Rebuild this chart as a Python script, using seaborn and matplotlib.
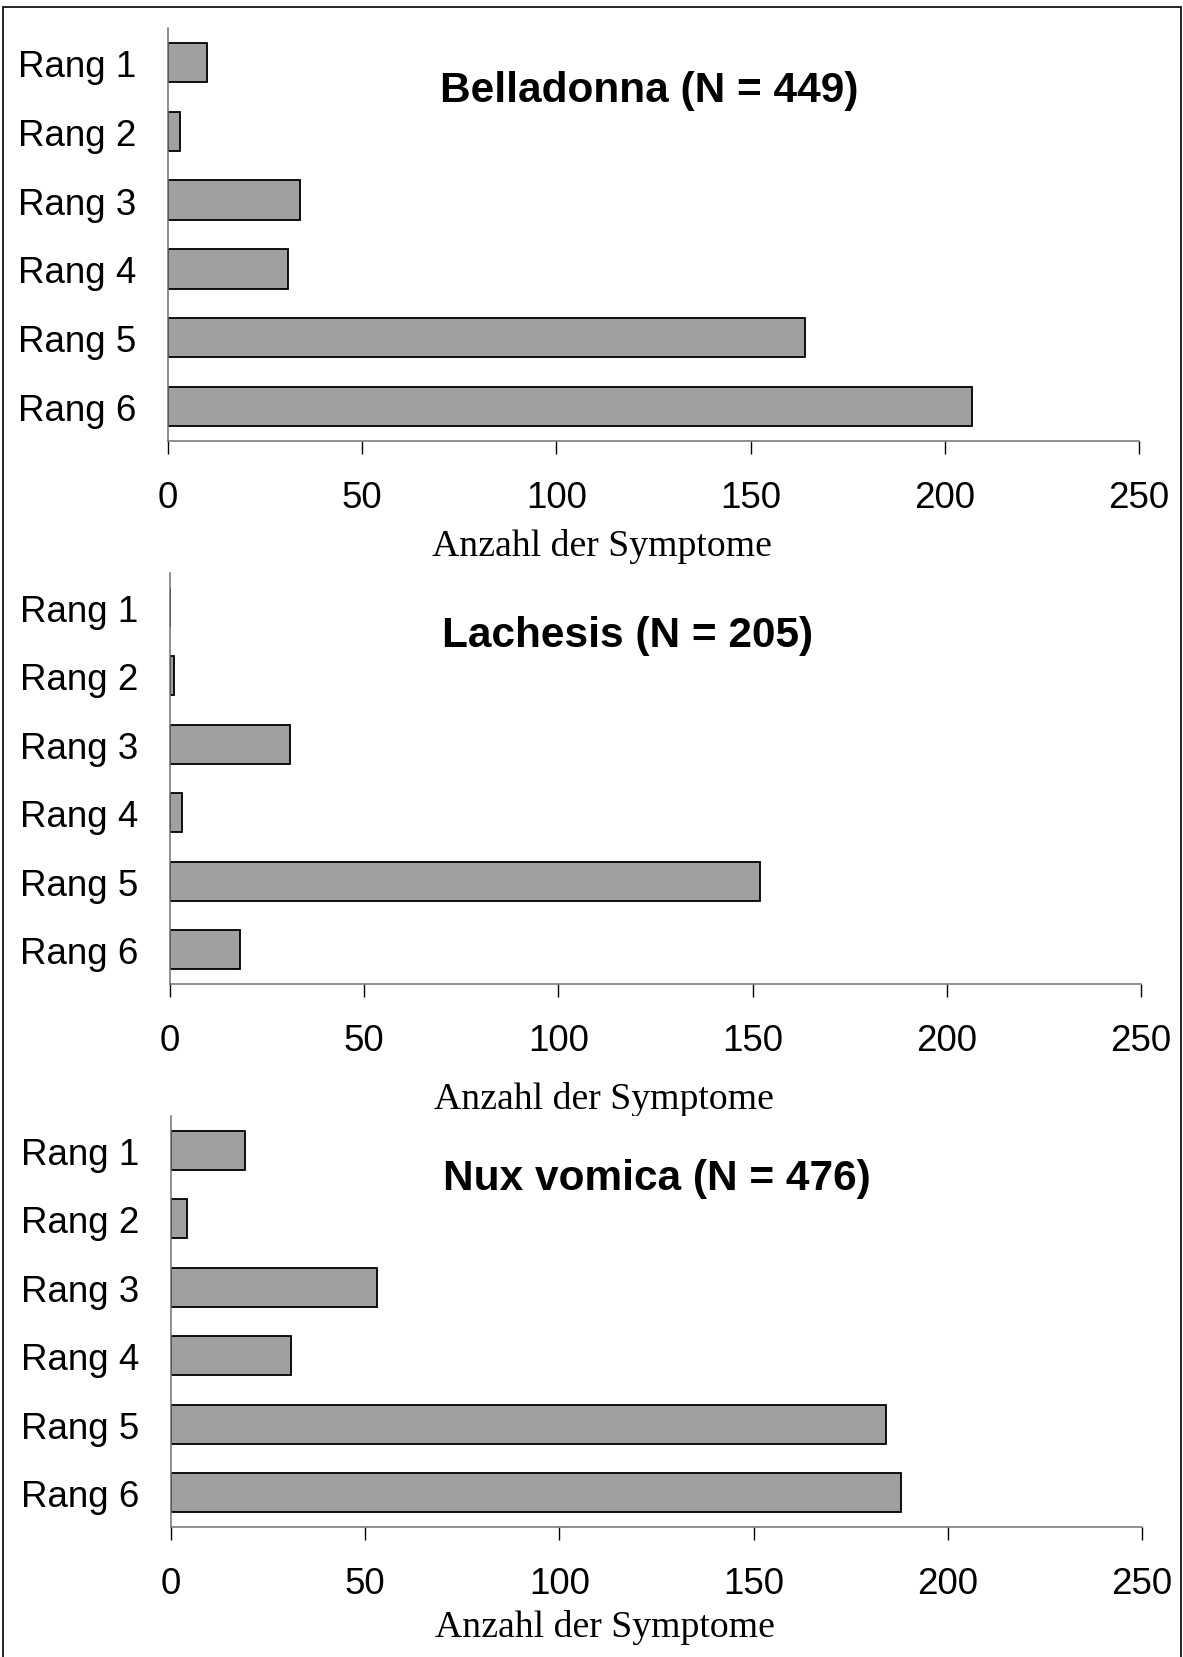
import matplotlib
matplotlib.use("Agg")
import matplotlib.pyplot as plt
from matplotlib.patches import Rectangle
import seaborn as sns

# data
ranks = ["Rang 1", "Rang 2", "Rang 3", "Rang 4", "Rang 5", "Rang 6"]
belladonna = [10, 3, 34, 31, 164, 207]
lachesis = [0, 1, 31, 3, 152, 18]
nux_vomica = [19, 4, 53, 31, 184, 188]
titles = ["Belladonna (N = 449)", "Lachesis (N = 205)", "Nux vomica (N = 476)"]
x_ticks = [0, 50, 100, 150, 200, 250]
x_label = "Anzahl der Symptome"

sns.set_style("white")
plt.rcParams["font.family"] = ["Liberation Sans", "DejaVu Sans"]
plt.rcParams["text.color"] = "black"
plt.rcParams["axes.labelcolor"] = "black"
plt.rcParams["xtick.color"] = "black"
plt.rcParams["ytick.color"] = "black"

W, H = 1183, 1658
fig = plt.figure(figsize=(W / 100, H / 100), dpi=100)

# axes boxes in pixels: left, right, top, bottom, xlabel offset
boxes = [(168, 1139, 29, 442, 105), (170, 1141, 574, 985, 115),
         (171, 1142, 1117, 1528, 100)]
series = [belladonna, lachesis, nux_vomica]

for (l, r, t, b, lab_off), vals, title in zip(boxes, series, titles):
    ax = fig.add_axes([l / W, 1 - b / H, (r - l) / W, (b - t) / H])
    sns.barplot(x=vals, y=ranks, orient="h", color="#a0a0a0", saturation=1,
                edgecolor="black", linewidth=1.3, width=0.57, ax=ax)
    ax.set_xlim(0, 250)
    ax.set_ylim(5.5, -0.5)
    ax.set_xticks(x_ticks)
    ax.tick_params(axis="x", direction="out", length=9, width=1, color="black",
                   pad=19, labelsize=26.5, bottom=True)
    ax.tick_params(axis="y", length=0, pad=23, labelsize=26.5)
    for s in ["top", "right"]:
        ax.spines[s].set_visible(False)
    for s in ["left", "bottom"]:
        ax.spines[s].set_color("#707070")
        ax.spines[s].set_linewidth(1.1)
        ax.spines[s].set_zorder(5)
    ax.set_ylabel("")
    ax.set_xlabel(x_label, family=["Liberation Serif", "DejaVu Serif"],
                  fontsize=27.2, va="center")
    ax.xaxis.set_label_coords(0.447, -lab_off / (b - t))
    ax.text(0.28, 1 - 62 / (b - t), title, transform=ax.transAxes,
            fontsize=30.5, fontweight="bold", ha="left", va="center")

# outer frame (bottom edge cut off in the reference)
fig.patches.append(Rectangle((3 / W, -0.01), 1 - 5 / W, 1 - 8 / H + 0.01,
                             transform=fig.transFigure, fill=False,
                             edgecolor="black", linewidth=1.2))

fig.savefig("out.png", dpi=100)
